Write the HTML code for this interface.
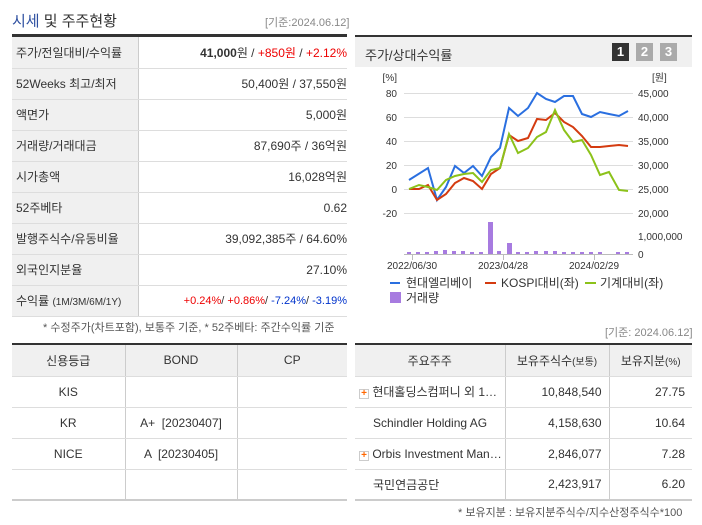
<!DOCTYPE html>
<html><head><meta charset="utf-8"><style>
*{margin:0;padding:0;box-sizing:border-box}
body{width:702px;height:525px;background:#fff;font-family:"Liberation Sans","Noto Sans CJK KR",sans-serif;font-size:12px;color:#333;position:relative;overflow:hidden}
.a{position:absolute;white-space:nowrap}
table{border-collapse:collapse;position:absolute;table-layout:fixed}
td{border-bottom:1px solid #ddd;height:31px;font-size:12px}
</style></head><body>
<div class="a" style="left:12px;top:10px;font-size:15px;color:#333"><span style="color:#2d4fa0">시세</span> 및 주주현황</div>
<div class="a" style="left:265px;top:14px;font-size:11px;color:#888">[기준:2024.06.12]</div>
<div class="a" style="left:12px;top:34px;width:335px;height:3px;background:#333"></div>
<table style="left:12px;top:37px;width:335px">
<colgroup><col style="width:126px"><col></colgroup>
<tr><td style="background:#f0f0f0;border-right:1px solid #ccc;padding-left:4px">주가/전일대비/수익률</td><td style="text-align:right"><b>41,000</b>원 / <span style="color:#e00">+850원</span> / <span style="color:#e00">+2.12%</span></td></tr>
<tr><td style="background:#f0f0f0;border-right:1px solid #ccc;padding-left:4px">52Weeks 최고/최저</td><td style="text-align:right">50,400원 / 37,550원</td></tr>
<tr><td style="background:#f0f0f0;border-right:1px solid #ccc;padding-left:4px">액면가</td><td style="text-align:right">5,000원</td></tr>
<tr><td style="background:#f0f0f0;border-right:1px solid #ccc;padding-left:4px">거래량/거래대금</td><td style="text-align:right">87,690주 / 36억원</td></tr>
<tr><td style="background:#f0f0f0;border-right:1px solid #ccc;padding-left:4px">시가총액</td><td style="text-align:right">16,028억원</td></tr>
<tr><td style="background:#f0f0f0;border-right:1px solid #ccc;padding-left:4px">52주베타</td><td style="text-align:right">0.62</td></tr>
<tr><td style="background:#f0f0f0;border-right:1px solid #ccc;padding-left:4px">발행주식수/유동비율</td><td style="text-align:right">39,092,385주 / 64.60%</td></tr>
<tr><td style="background:#f0f0f0;border-right:1px solid #ccc;padding-left:4px">외국인지분율</td><td style="text-align:right">27.10%</td></tr>
<tr><td style="background:#f0f0f0;border-right:1px solid #ccc;padding-left:4px">수익률 <span style="font-size:10px">(1M/3M/6M/1Y)</span></td><td style="text-align:right;font-size:11px"><span style="color:#e00">+0.24%</span>/ <span style="color:#e00">+0.86%</span>/ <span style="color:#03c">-7.24%</span>/ <span style="color:#03c">-3.19%</span></td></tr>
</table>
<div class="a" style="left:43px;top:319px;font-size:11px;color:#555">* 수정주가(차트포함), 보통주 기준, * 52주베타: 주간수익률 기준</div>

<div class="a" style="left:355px;top:35px;width:337px;height:2px;background:#333"></div>
<div class="a" style="left:355px;top:37px;width:337px;height:30px;background:#f0f0f0"></div>
<div class="a" style="left:365px;top:45px;font-size:13px">주가/상대수익률</div>
<div class="a" style="left:612px;top:43px;width:17px;height:18px;background:#333;color:#fff;font-weight:bold;text-align:center;line-height:18px;font-size:13px">1</div>
<div class="a" style="left:636px;top:43px;width:17px;height:18px;background:#aaa;color:#fff;font-weight:bold;text-align:center;line-height:18px;font-size:13px">2</div>
<div class="a" style="left:660px;top:43px;width:17px;height:18px;background:#aaa;color:#fff;font-weight:bold;text-align:center;line-height:18px;font-size:13px">3</div>

<svg class="a" style="left:0;top:0" width="702" height="525" font-family="Liberation Sans,sans-serif" font-size="10" fill="#333">
<g stroke="#ddd" stroke-width="1">
<line x1="404" x2="633" y1="93.5" y2="93.5"/><line x1="404" x2="633" y1="117.5" y2="117.5"/><line x1="404" x2="633" y1="141.5" y2="141.5"/><line x1="404" x2="633" y1="165.5" y2="165.5"/><line x1="404" x2="633" y1="189.5" y2="189.5"/><line x1="404" x2="633" y1="213.5" y2="213.5"/>
<line x1="404" x2="633" y1="254.5" y2="254.5" stroke="#bbb"/>
<line x1="412.5" x2="412.5" y1="254" y2="260" stroke="#bbb"/><line x1="503.5" x2="503.5" y1="254" y2="260" stroke="#bbb"/><line x1="594.5" x2="594.5" y1="254" y2="260" stroke="#bbb"/>
</g>
<g text-anchor="end"><text x="397" y="81">[%]</text><text x="397" y="97">80</text><text x="397" y="121">60</text><text x="397" y="145">40</text><text x="397" y="169">20</text><text x="397" y="193">0</text><text x="397" y="217">-20</text></g>
<g><text x="652" y="81">[원]</text><text x="638" y="97">45,000</text><text x="638" y="121">40,000</text><text x="638" y="145">35,000</text><text x="638" y="169">30,000</text><text x="638" y="193">25,000</text><text x="638" y="217">20,000</text><text x="638" y="240">1,000,000</text><text x="638" y="258">0</text></g>
<g text-anchor="middle"><text x="412" y="269">2022/06/30</text><text x="503" y="269">2023/04/28</text><text x="594" y="269">2024/02/29</text></g>
<g fill="#a77be0">
<rect x="407" y="252" width="4" height="2"/><rect x="416" y="252" width="4" height="2"/><rect x="425" y="252" width="4" height="2"/><rect x="434" y="251" width="4" height="3"/><rect x="443" y="250" width="4" height="4"/><rect x="452" y="251" width="4" height="3"/><rect x="461" y="251" width="4" height="3"/><rect x="470" y="252" width="4" height="2"/><rect x="479" y="252" width="4" height="2"/><rect x="488" y="222" width="5" height="32"/><rect x="497" y="251" width="4" height="3"/><rect x="507" y="243" width="5" height="11"/><rect x="516" y="252" width="4" height="2"/><rect x="525" y="252" width="4" height="2"/><rect x="534" y="251" width="4" height="3"/><rect x="544" y="251" width="4" height="3"/><rect x="553" y="251" width="4" height="3"/><rect x="562" y="252" width="4" height="2"/><rect x="571" y="252" width="4" height="2"/><rect x="580" y="252" width="4" height="2"/><rect x="589" y="252" width="4" height="2"/><rect x="598" y="252" width="4" height="2"/><rect x="616" y="252" width="4" height="2"/><rect x="625" y="252" width="4" height="2"/>
</g>
<polyline fill="none" stroke="#2a6fe0" stroke-width="2" points="409,180 428,168 437,200 446,187 455,166 464,173 473,166 482,176 491,157 500,148 509,108 518,116 528,108 537,93 546,99 555,102 564,96 573,96 582,114 591,117 600,112 609,114 619,116 628,111"/>
<polyline fill="none" stroke="#d43b10" stroke-width="2" points="409,189 419,189 428,185 437,200 446,194 455,183 464,178 473,181 482,189 491,174 500,168 509,135 518,141 528,138 537,119 546,120 555,113 564,122 573,127 582,136 591,147 600,147 609,146 619,145 628,146"/>
<polyline fill="none" stroke="#8cc21a" stroke-width="2" points="409,189 419,185 428,187 437,190 446,180 455,176 464,174 473,173 482,182 491,170 500,168 509,134 518,153 528,148 537,137 546,132 555,110 564,130 573,142 582,140 591,155 600,175 609,172 619,190 628,191"/>
<g font-size="12" fill="#333">
<line x1="390" x2="400" y1="283" y2="283" stroke="#2a6fe0" stroke-width="2"/><text x="406" y="287">현대엘리베이</text>
<line x1="485" x2="496" y1="283" y2="283" stroke="#d43b10" stroke-width="2"/><text x="501" y="287">KOSPI대비(좌)</text>
<line x1="585" x2="596" y1="283" y2="283" stroke="#8cc21a" stroke-width="2"/><text x="600" y="287">기계대비(좌)</text>
<rect x="390" y="292" width="11" height="11" fill="#a77be0"/><text x="406" y="302">거래량</text>
</g>
</svg>
<div class="a" style="left:605px;top:324px;font-size:11px;color:#888">[기준: 2024.06.12]</div>

<div class="a" style="left:12px;top:343px;width:335px;height:2px;background:#333"></div>
<table style="left:12px;top:345px;width:335px;text-align:center;border-bottom:2px solid #ccc">
<colgroup><col style="width:113px"><col style="width:112px"><col></colgroup>
<tr><td style="background:#f0f0f0;border-right:1px solid #ccc;height:30px">신용등급</td><td style="background:#f0f0f0;border-right:1px solid #ccc">BOND</td><td style="background:#f0f0f0">CP</td></tr>
<tr><td style="border-right:1px solid #ccc">KIS</td><td style="border-right:1px solid #ccc"></td><td></td></tr>
<tr><td style="border-right:1px solid #ccc">KR</td><td style="border-right:1px solid #ccc">A+ &nbsp;[20230407]</td><td></td></tr>
<tr><td style="border-right:1px solid #ccc">NICE</td><td style="border-right:1px solid #ccc">A &nbsp;[20230405]</td><td></td></tr>
<tr><td style="border-right:1px solid #ccc"></td><td style="border-right:1px solid #ccc"></td><td></td></tr>
</table>

<div class="a" style="left:355px;top:343px;width:337px;height:2px;background:#333"></div>
<table style="left:355px;top:345px;width:337px;border-bottom:2px solid #ccc">
<colgroup><col style="width:150px"><col style="width:104px"><col></colgroup>
<tr><td style="background:#f0f0f0;border-right:1px solid #ccc;text-align:center;height:30px">주요주주</td><td style="background:#f0f0f0;border-right:1px solid #ccc;text-align:center">보유주식수<span style="font-size:10px">(보통)</span></td><td style="background:#f0f0f0;text-align:center">보유지분<span style="font-size:10px">(%)</span></td></tr>
<tr><td style="border-right:1px solid #ccc;padding-left:4px"><span style="display:inline-block;width:10px;height:10px;border:1px solid #ccc;color:#f60;font-size:10px;line-height:8px;text-align:center;font-weight:bold">+</span> 현대홀딩스컴퍼니 외 1…</td><td style="border-right:1px solid #ccc;text-align:right;padding-right:7px">10,848,540</td><td style="text-align:right;padding-right:7px">27.75</td></tr>
<tr><td style="border-right:1px solid #ccc;padding-left:18px">Schindler Holding AG</td><td style="border-right:1px solid #ccc;text-align:right;padding-right:7px">4,158,630</td><td style="text-align:right;padding-right:7px">10.64</td></tr>
<tr><td style="border-right:1px solid #ccc;padding-left:4px"><span style="display:inline-block;width:10px;height:10px;border:1px solid #ccc;color:#f60;font-size:10px;line-height:8px;text-align:center;font-weight:bold">+</span> Orbis Investment Man…</td><td style="border-right:1px solid #ccc;text-align:right;padding-right:7px">2,846,077</td><td style="text-align:right;padding-right:7px">7.28</td></tr>
<tr><td style="border-right:1px solid #ccc;padding-left:18px">국민연금공단</td><td style="border-right:1px solid #ccc;text-align:right;padding-right:7px">2,423,917</td><td style="text-align:right;padding-right:7px">6.20</td></tr>
</table>
<div class="a" style="left:458px;top:504px;font-size:11px;color:#555">* 보유지분 : 보유지분주식수/지수산정주식수*100</div>
</body></html>
